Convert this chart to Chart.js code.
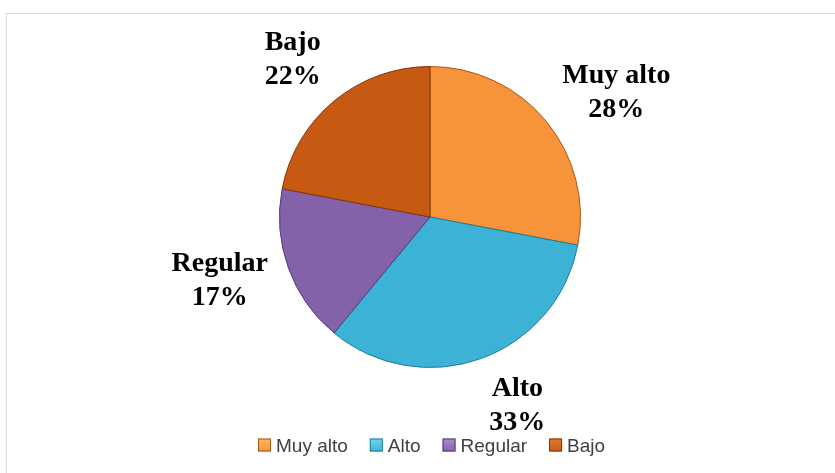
<!DOCTYPE html>
<html>
<head>
<meta charset="utf-8">
<script src="https://cdn.jsdelivr.net/npm/chart.js@4.4.1/dist/chart.umd.min.js"></script>
<style>
  html, body { margin: 0; padding: 0; background: #ffffff; }
  #wrap { position: relative; width: 835px; height: 473px; overflow: hidden; }
  #frame { position: absolute; left: 6px; top: 13px; width: 900px; height: 600px; border: 1px solid #d9d9d9; box-sizing: border-box; }
  canvas { position: absolute; left: 0; top: 0; }
</style>
</head>
<body>
<div id="wrap">
  <div id="frame"></div>
  <canvas id="c" width="835" height="473"></canvas>
</div>
<script>
// ---- data ----
const categories = ["Muy alto", "Alto", "Regular", "Bajo"];
const percentages = [28, 33, 17, 22];
const sliceColors = ["#f7943a", "#3cb3d6", "#8462aa", "#c75a12"];
const edgeColors  = ["#a8561a", "#1f7d99", "#553a78", "#843606"];
const lightColors = ["#fbb565", "#74d3ee", "#a78bc8", "#e07a30"];

// per-label nudges (layout only), relative to mid-angle anchor
const labelNudges = [[24, 10], [16, -9], [-12, -8], [-3, 5]];

function radialFill(ctx, i) {
  const chart = ctx.chart;
  const meta = chart.getDatasetMeta(0);
  const arc = meta.data[i];
  if (!arc || !arc.outerRadius) return sliceColors[i];
  const { x, y, outerRadius } = arc;
  const g = chart.ctx.createRadialGradient(x, y, 0, x, y, outerRadius);
  g.addColorStop(0, sliceColors[i]);
  g.addColorStop(0.93, sliceColors[i]);
  g.addColorStop(0.965, lightColors[i]);
  g.addColorStop(1, sliceColors[i]);
  return g;
}

const labelPlugin = {
  id: 'outerLabels',
  afterDatasetsDraw(chart) {
    const ctx = chart.ctx;
    const meta = chart.getDatasetMeta(0);
    ctx.save();
    ctx.fillStyle = '#000000';
    ctx.font = 'bold 28px "Liberation Serif", "Times New Roman", serif';
    ctx.textAlign = 'center';
    ctx.textBaseline = 'middle';
    meta.data.forEach((arc, i) => {
      const mid = (arc.startAngle + arc.endAngle) / 2;
      const rr = arc.outerRadius * 1.4;
      const cx = arc.x + Math.cos(mid) * rr + labelNudges[i][0];
      const cy = arc.y + Math.sin(mid) * rr + labelNudges[i][1];
      ctx.fillText(categories[i], cx, cy - 17);
      ctx.fillText(percentages[i] + '%', cx, cy + 17);
    });
    ctx.restore();
  },
  afterDraw(chart) {
    const ctx = chart.ctx;
    ctx.save();
    ctx.font = '19px "Liberation Sans", Arial, sans-serif';
    const box = 13, gapBox = 5, gapItem = 22;
    const widths = categories.map(c => ctx.measureText(c).width);
    let total = 0;
    widths.forEach((w, i) => { total += box + gapBox + w + (i < widths.length - 1 ? gapItem : 0); });
    const centerX = chart.getDatasetMeta(0).data[0].x;
    let x = Math.round(centerX + 2 - total / 2);
    const yMid = 445;
    ctx.fillStyle = '#ffffff';
    ctx.fillRect(x - 4, 436, total + 8, 24);
    categories.forEach((c, i) => {
      const g = ctx.createLinearGradient(0, yMid - 6, 0, yMid + 7);
      g.addColorStop(0, lightColors[i]);
      g.addColorStop(1, sliceColors[i]);
      ctx.fillStyle = g;
      ctx.fillRect(x, yMid - 6.5, box, box);
      ctx.strokeStyle = edgeColors[i];
      ctx.lineWidth = 1;
      ctx.strokeRect(x + 0.5, yMid - 6, box - 1, box - 1);
      ctx.fillStyle = '#404040';
      ctx.textAlign = 'left';
      ctx.textBaseline = 'alphabetic';
      ctx.fillText(c, x + box + gapBox, yMid + 7);
      x += box + gapBox + widths[i] + gapItem;
    });
    ctx.restore();
  }
};

new Chart(document.getElementById('c'), {
  type: 'pie',
  data: {
    labels: categories,
    datasets: [{
      data: percentages,
      backgroundColor: (ctx) => radialFill(ctx, ctx.dataIndex),
      borderColor: edgeColors,
      borderWidth: 1
    }]
  },
  options: {
    responsive: false,
    animation: false,
    devicePixelRatio: 1,
    layout: { padding: { left: 279, right: 254, top: 66, bottom: 105 } },
    plugins: {
      legend: { display: false },
      tooltip: { enabled: false }
    }
  },
  plugins: [labelPlugin]
});
</script>
</body>
</html>
